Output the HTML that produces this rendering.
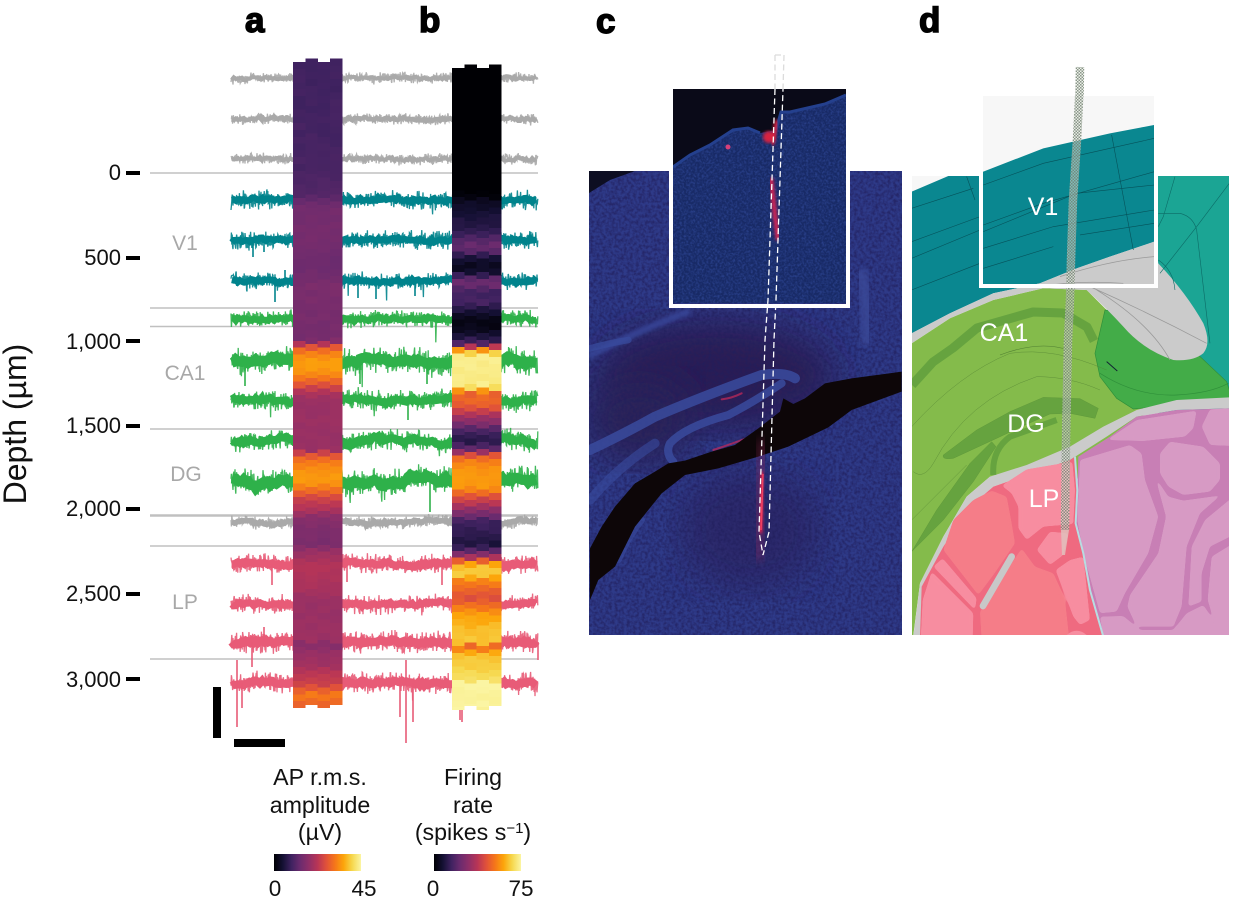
<!DOCTYPE html>
<html><head><meta charset="utf-8"><title>Depth recordings</title>
<style>
html,body{margin:0;padding:0;background:#fff}
svg{display:block}
text{font-family:"Liberation Sans",Arial,sans-serif}
.t{font-size:22px;fill:#111;text-anchor:end}
.r{font-size:21px;fill:#a8a8a8;text-anchor:middle}
.l{font-size:35px;font-weight:bold;fill:#000;stroke:#000;stroke-width:1.5}
.c{font-size:23.2px;fill:#111;text-anchor:middle}
.n{font-size:22.5px;fill:#111;text-anchor:middle}
.w{font-size:25px;fill:#fff;text-anchor:middle}
</style></head><body>
<svg id="s" xmlns="http://www.w3.org/2000/svg" width="1239" height="903" viewBox="0 0 1239 903">
<defs>
<linearGradient id="inf">
<stop offset="0" stop-color="#000004"/><stop offset=".1" stop-color="#141033"/><stop offset=".2" stop-color="#3f2260"/><stop offset=".3" stop-color="#6b2b6e"/><stop offset=".4" stop-color="#8f2f68"/><stop offset=".5" stop-color="#b83556"/><stop offset=".6" stop-color="#e0513a"/><stop offset=".7" stop-color="#f5761a"/><stop offset=".8" stop-color="#fca50a"/><stop offset=".9" stop-color="#f6d84e"/><stop offset="1" stop-color="#fbf5a3"/>
</linearGradient>
<filter id="sp" x="0" y="0" width="1" height="1" color-interpolation-filters="sRGB"><feTurbulence type="fractalNoise" baseFrequency=".33" numOctaves="2" seed="3"/><feColorMatrix values="0 0 0 0 .13 0 0 0 0 .12 0 0 0 0 .36 2.4 0 0 0 -.85"/></filter>
<filter id="sl" x="0" y="0" width="1" height="1" color-interpolation-filters="sRGB"><feTurbulence type="fractalNoise" baseFrequency=".45" numOctaves="2" seed="8"/><feColorMatrix values="0 0 0 0 .2 0 0 0 0 .3 0 0 0 0 .62 0 2.4 0 0 -.9"/></filter>
<filter id="b8"><feGaussianBlur stdDeviation="18"/></filter>
<filter id="b2"><feGaussianBlur stdDeviation="1.6"/></filter>
<filter id="b1"><feGaussianBlur stdDeviation="3"/></filter>
<filter id="b5"><feGaussianBlur stdDeviation="5"/></filter>
<filter id="goo" color-interpolation-filters="sRGB"><feGaussianBlur stdDeviation="4.500"/><feColorMatrix values="1 0 0 0 0 0 1 0 0 0 0 0 1 0 0 0 0 0 14 -6.500"/></filter>
<clipPath id="cc"><rect x="589" y="171" width="313" height="464"/></clipPath>
<clipPath id="ci"><rect x="673" y="89" width="173" height="214"/></clipPath>
<clipPath id="cd"><rect x="912" y="176" width="317" height="459"/><rect x="983" y="96" width="171" height="190"/></clipPath>
<pattern id="chk" width="3" height="3" patternUnits="userSpaceOnUse"><rect width="3" height="3" fill="#dfe5d8" opacity=".55"/><rect width="1.5" height="1.5" fill="#6f7f70" opacity=".8"/><rect x="1.5" y="1.5" width="1.5" height="1.5" fill="#6f7f70" opacity=".8"/></pattern>
</defs>

<g stroke="#c0c0c0" stroke-width="1.6">
<line x1="150" x2="538" y1="173" y2="173"/><line x1="150" x2="538" y1="308" y2="308"/><line x1="150" x2="538" y1="326.500" y2="326.500"/><line x1="150" x2="538" y1="429" y2="429"/><line x1="150" x2="538" y1="515.500" y2="515.500" stroke-width="2.400"/><line x1="150" x2="538" y1="546" y2="546"/><line x1="150" x2="538" y1="659" y2="659"/>
</g>
<g id="traces"></g>
<g id="cols" shape-rendering="crispEdges"></g>

<g fill="#000">
<rect x="126" y="171" width="14" height="4"/><rect x="126" y="256" width="14" height="4"/><rect x="126" y="339" width="14" height="4"/><rect x="126" y="424" width="14" height="4"/><rect x="126" y="507" width="14" height="4"/><rect x="126" y="592" width="14" height="4"/><rect x="126" y="677" width="14" height="4"/>
<rect x="213" y="687" width="8" height="51"/><rect x="234" y="739" width="51" height="8"/>
</g>
<text class="t" x="121" y="180">0</text><text class="t" x="121" y="265">500</text><text class="t" x="121" y="349">1,000</text><text class="t" x="121" y="433">1,500</text><text class="t" x="121" y="516">2,000</text><text class="t" x="121" y="601">2,500</text><text class="t" x="121" y="687">3,000</text>
<text class="r" x="185" y="250">V1</text><text class="r" x="185" y="380">CA1</text><text class="r" x="186" y="481">DG</text><text class="r" x="185" y="609">LP</text>
<text transform="translate(26,424) rotate(-90)" text-anchor="middle" font-size="32" fill="#111">Depth (µm)</text>
<text class="l" x="245" y="32">a</text><text class="l" x="419" y="32">b</text><text class="l" x="596" y="33">c</text><text class="l" x="919" y="32">d</text>

<text class="c" x="320" y="785">AP r.m.s.</text><text class="c" x="320" y="813">amplitude</text><text class="c" x="320" y="840">(µV)</text>
<text class="c" x="473" y="785">Firing</text><text class="c" x="473" y="813">rate</text><text class="c" x="473" y="840">(spikes s<tspan dy="-7" font-size="15">−1</tspan><tspan dy="7">)</tspan></text>
<rect x="274" y="854" width="87" height="17" fill="url(#inf)"/><rect x="434" y="854" width="87" height="17" fill="url(#inf)"/>
<text class="n" x="275" y="896">0</text><text class="n" x="364" y="896">45</text><text class="n" x="433" y="896">0</text><text class="n" x="521" y="896">75</text>

<!-- panel c -->
<g clip-path="url(#cc)">
<rect x="589" y="171" width="313" height="464" fill="#2e3a88"/>
<ellipse cx="715" cy="375" rx="120" ry="55" fill="#2a1f55" filter="url(#b8)"/>
<ellipse cx="640" cy="420" rx="55" ry="45" fill="#2b2258" filter="url(#b8)"/>
<ellipse cx="750" cy="530" rx="70" ry="60" fill="#2b2460" opacity=".7" filter="url(#b8)"/>
<rect x="589" y="171" width="313" height="464" filter="url(#sp)" opacity=".7"/>
<path d="M860 270Q868 300 868 345" stroke="#3a4898" stroke-width="14" fill="none" filter="url(#b1)" opacity=".8"/>
<path d="M589 356Q640 330 690 311" stroke="#38479a" stroke-width="7" fill="none" filter="url(#b2)" opacity=".8"/>
<g transform="translate(585,340) scale(.3333)" fill="none" stroke="#394b9e" stroke-linecap="round">
<path d="M15 330Q120 280 210 230Q350 170 530 105Q600 95 630 115" stroke-width="30" opacity=".85"/>
<path d="M590 130Q500 190 430 225Q300 260 255 310Q240 340 265 365" stroke-width="24" opacity=".85"/>
<path d="M15 480Q100 380 210 310" stroke-width="28" opacity=".6"/>
<path d="M15 25Q70 10 130 0" stroke-width="20" opacity=".7"/>
<path d="M100 660Q130 590 170 540" stroke-width="20" opacity=".6"/>
<path d="M410 178Q440 175 470 160M385 330Q430 315 485 295" stroke="#c72a5a" stroke-width="6" opacity=".7"/>
<path fill="#0d0608" stroke="none" d="M15 625L50 560L90 500L120 465L150 430L210 395L250 370L300 362L380 335L450 315L520 265L585 215L595 175L625 192L660 175L720 130L800 115L950 95V155L800 210L730 262L610 320L520 350L400 385L300 405L230 460L150 560L90 680L40 720L15 780Z"/>
</g>
<path d="M589 171H635L610 180L589 193Z" fill="#0d0e22"/>
<path d="M764 440L757 560" stroke="#a52a60" stroke-width="14" opacity=".3" filter="url(#b5)"/>
<path d="M763 472L760 533" stroke="#e6244f" stroke-width="4" fill="none" filter="url(#b2)"/>
<path d="M763 474L761 530" stroke="#f04060" stroke-width="1.600"/>
</g>
<path d="M671 171V306H848V171" fill="none" stroke="#fff" stroke-width="4"/>
<g clip-path="url(#ci)">
<rect x="673" y="89" width="173" height="214" fill="#182a66"/>
<rect x="673" y="89" width="173" height="214" filter="url(#sl)" opacity=".6"/>
<path d="M673 89H846V95L825 104L790 112L781 112L776 130L760 133L748 128L733 130L710 145L690 155L673 167Z" fill="#0a0a18"/>
<path d="M846 95L825 104L790 112L781 112L776 130M760 133L748 128L733 130L710 145L690 155L673 167" fill="none" stroke="#24408e" stroke-width="3"/>
<ellipse cx="769" cy="137" rx="6" ry="6" fill="#d8203f" filter="url(#b2)"/>
<path d="M777 120L772 145" stroke="#e0203f" stroke-width="4" filter="url(#b2)"/>
<circle cx="728" cy="147" r="2.500" fill="#d8407a"/>
<path d="M771 178L775 215L778 240" stroke="#e62050" stroke-width="4" fill="none" filter="url(#b2)"/>
</g>
<g fill="none" stroke-dasharray="6 3.500" stroke-width="1.300">
<path d="M775 55L775 89M784 55L783 89M775 55L784 55" stroke="#dcdcdc"/>
<path d="M775 89L768 300L765 340L759 532L763 555L769 532L774 340L776 300L783 89" stroke="#fff"/>
</g>

<!-- panel d -->
<g clip-path="url(#cd)">
<rect x="912" y="96" width="317" height="540" fill="#f7f7f7"/>
<path d="M1158 176H1229V640H1158Z" fill="#1ba594"/>
<g transform="translate(910,60) scale(.3333)">
<path d="M5 395L115 348L220 335L400 265L600 220L733 195V545L600 590L500 625L390 670L250 700L120 760L5 820Z" fill="#0a8790"/>
<path d="M5 850L120 775L250 720L400 685L530 690L590 750L640 800L700 860V1200H5Z" fill="#84bb4b"/>
</g>
<g transform="translate(910,340) scale(.3333)">
<path d="M5 100H700V420L240 410L170 470L100 590L30 730L10 885H5Z" fill="#84bb4b"/>
<path d="M585 -90L800 -60L860 40L950 125L958 150V190L790 195L670 207L620 175L570 110L555 40Z" fill="#43ac48" stroke="#2f8f3a" stroke-width="2"/>
<path d="M570 100Q680 170 800 165Q900 160 955 130" fill="none" stroke="#2f8f3a" stroke-width="2"/>
<path d="M590 65L622 93" stroke="#123" stroke-width="3"/>
</g>
<g transform="translate(910,60) scale(.3333)">
<path d="M5 820L120 760L250 700L390 670L500 625L600 590L733 545L745 610Q830 700 880 790Q905 850 880 880Q850 905 790 900Q700 870 640 800Q590 745 530 690L400 685L250 720L120 775L5 850Z" fill="#cbcbcb"/>
</g>
<g transform="translate(910,340) scale(.3333)">
<path fill="#cbcbcb" d="M958 172L800 180L680 210L580 260L480 320L350 375L240 410L170 470L100 590L30 730L10 890H30L40 740L100 620L180 500L250 440L480 360L590 290L680 230L800 210L958 205Z"/>
<path fill="#66a33f" stroke="#578f37" d="M100 345L200 270L300 215L400 172L510 176L565 205L555 235L480 220L420 222L330 262L260 295L130 355Q95 360 100 345Z"/>
<path fill="#66a33f" stroke="#578f37" d="M5 635L80 510L180 370L245 305L258 320L190 425L100 540Z"/>
<path d="M250 405Q245 330 300 290L440 240" fill="none" stroke="#66a33f" stroke-width="18"/>
<g fill="none" stroke="#507f32" stroke-width="1.500" opacity=".7"><path d="M5 260Q150 100 300 40Q430 20 590 90"/><path d="M10 395Q40 420 70 370Q170 180 380 110Q480 110 570 150"/><path d="M5 540L170 375"/></g>
<path fill="#ef6a80" d="M250 440L480 360L495 350L500 450L495 550L520 640L540 750L580 890H30L35 740L100 620L180 500Z"/>
<g filter="url(#goo)">
<path fill="#f78da0" d="M275 437L305 460L325 500L325 565L350 600L400 560L490 552L495 450L487 365L350 388Z"/>
<path fill="#f57d88" d="M245 452L290 470L305 550L315 610L250 705L205 765L100 630L130 540L190 480Z"/>
<path fill="#f57d88" d="M210 815L335 625L375 680L430 700L465 780L478 900H215Z"/>
<path fill="#f78da0" d="M65 695L190 820L188 900H32L38 780Z"/>
<path fill="#f78da0" d="M98 655L200 775L195 810L70 680Z"/>
<path fill="#f78da0" d="M380 630L420 575L475 580L460 645L420 675Z"/>
<path fill="#f78da0" d="M437 690L480 660L520 650L540 840L510 855L490 830L460 750Z"/>
</g>
<path d="M219 798L305 650" stroke="#c8c8c8" stroke-width="20" stroke-linecap="round"/>
<path d="M470 885Q500 860 530 885" fill="#f78da0"/>
<path fill="#c87fb5" d="M505 350L600 290L680 230L800 210L958 205V890H580L540 750L520 640L497 550L502 450Z"/>
<g fill="#d79ac4" filter="url(#goo)">
<path d="M590 300L680 240L860 212L850 265L825 290L700 303Z"/>
<path d="M875 260L900 208L970 205V318L900 315Z"/>
<path d="M510 360L660 315L695 340L705 420L745 530L715 640L645 760L620 815L570 820L520 640L502 540Z"/>
<path d="M750 340L780 305L880 320L930 370L930 420L900 455L820 465L775 440L750 400Z"/>
<path d="M718 345L735 410L775 470L820 482L920 468L950 450L870 520L830 620L815 800L790 860L680 860L652 800L660 765L745 640L768 530Z"/>
<path d="M835 800L845 620L885 540L970 470V585L900 620L875 700L875 785Z"/>
<path d="M893 780L905 650L970 610V900H930Z"/>
<path d="M570 830L640 828L690 870L790 870L830 820L880 795L930 870L970 900H582Z"/>
</g>
<path d="M495 350L502 450L497 550L520 640L540 750L580 890" fill="none" stroke="#b7dde2" stroke-width="6"/>
</g>
<path d="M912 385L933 362L953 348L977 328L1033 312L1063 313L1087 327L1094 341" fill="none" stroke="#66a33f" stroke-width="9" stroke-linejoin="round"/>
<path d="M1000 355Q1040 340 1068 350" fill="none" stroke="#507f32" stroke-width=".6"/>
<g transform="translate(910,60) scale(.3333)">
<g fill="none" stroke="#06525a" stroke-width="1.800">
<path d="M5 445L190 385"/><path d="M5 545L210 470"/><path d="M5 595L210 510"/><path d="M5 690L210 610"/>
<path d="M220 375L400 310L600 265L733 235"/><path d="M220 495L400 430L733 335"/><path d="M220 515L500 400L733 375"/><path d="M220 565L430 500L733 450"/><path d="M220 625L430 560"/><path d="M510 525L733 490"/>
<path d="M605 225L670 570M170 350L195 420"/>
</g>
<g fill="none" stroke="#0c6b66" stroke-width="1.800"><path d="M795 350L760 470L745 500M745 460H810Q850 470 860 510L900 850M958 370L860 500L750 640"/><path d="M745 600Q790 630 795 690"/></g>
<g fill="none" stroke="#999" stroke-width="2.200"><path d="M450 650Q600 600 733 590M540 680Q720 760 890 850M560 690Q720 790 780 900M390 680Q500 660 640 670"/></g>
</g>
<path d="M1080 67L1079 100L1077 140L1073 200L1071 260L1070 300L1068 340L1066 440L1065 530" stroke="url(#chk)" stroke-width="8.500" fill="none"/>
<path d="M1061 530L1069 530L1065 555L1062 555Z" fill="#e0c0bc" opacity=".85"/>
</g>
<path d="M1080 67L1079.500 96" stroke="url(#chk)" stroke-width="8.500" fill="none"/>
<path d="M981 176V286H1156V176" fill="none" stroke="#fff" stroke-width="4"/>
<text class="w" x="1043" y="215">V1</text><text class="w" x="1004" y="341">CA1</text><text class="w" x="1026" y="432">DG</text><text class="w" x="1044" y="507">LP</text>
</svg>
<script>
(function(){
var seed=12345;function R(){seed=(seed*1664525+1013904223)>>>0;return seed/4294967296;}
var NS="http://www.w3.org/2000/svg";
function el(n,a,p){var e=document.createElementNS(NS,n);for(var k in a)e.setAttribute(k,a[k]);p.appendChild(e);return e;}
var T=document.getElementById("traces");
var G="#a9a9a9",Te="#00838c",Gr="#2eb14a",P="#e85b77";
var tr=[[78,G,7,.5,0,4],[119,G,7,.5,0,4.500],[159,G,7,.5,0,4],[200,Te,12,.7,.01,6.500],[240,Te,12,.7,.012,6.500],[281,Te,11,.7,.02,6.500],[319,Gr,11,.5,.01,6.500],[361,Gr,17,1.6,.03,10],[400,Gr,13,1.2,.02,7.500],[441,Gr,13,1.8,.01,8],[481,Gr,17,3,.02,10],[522,G,8,1.2,0,5.500],[564,P,12,1,.015,7.500],[604,P,12,.7,.015,7],[642,P,14,.7,.015,8.500],[683,P,13,1,.02,8]];
tr.forEach(function(t){
  var pts=[],mid=[],ph=R()*9,ph2=R()*9,ph3=R()*9;
  for(var x=231;x<=538;x+=.4){
    var w=(Math.sin(x/17+ph)+Math.sin(x/7.3+ph2)*.7+Math.sin(x/2.9+ph3)*.5)*t[3];
    var n=(R()+R()-1)*t[2]*.9;
    var y=t[0]+w+n;
    if(R()<t[4]*.3) y+=4+R()*t[2]*1.1;
    pts.push(x.toFixed(1)+","+y.toFixed(1));
    if(Math.round(x/.4)%5==0)mid.push(x.toFixed(1)+","+(t[0]+w+(R()-.5)*3).toFixed(1));
  }
  el("polyline",{points:pts.join(" "),fill:"none",stroke:t[1],"stroke-width":1.3,opacity:.9},T);
  el("polyline",{points:mid.join(" "),fill:"none",stroke:t[1],"stroke-width":t[5]},T);
});
var sp=[[275,281,302,Te],[358,281,298,Te],[376,281,299,Te],[415,281,296,Te],[253,240,257,Te],[264,240,252,Te],[285,270,281,Te],[245,361,386,Gr],[360,361,384,Gr],[427,361,384,Gr],[408,400,420,Gr],[430,481,512,Gr],[237,660,727,P],[242,683,708,P],[400,683,717,P],[406,660,743,P],[413,683,722,P],[460,700,720,P],[462,700,722,P],[272,564,585,P],[347,564,582,P],[442,564,585,P],[264,627,642,P],[252,642,667,P],[538,642,660,P]];
sp.forEach(function(s){el("line",{x1:s[0],x2:s[0],y1:s[1],y2:s[2],stroke:s[3],"stroke-width":1.6},T);});
var cm=[[0,0,4],[20,16,51],[63,34,96],[107,43,110],[143,47,104],[184,53,86],[224,81,58],[245,118,26],[252,165,10],[246,216,78],[251,245,163]];
function col(v){v=Math.max(0,Math.min(1,v))*10;var i=Math.min(9,Math.floor(v)),f=v-i,a=cm[i],b=cm[i+1];return "rgb("+[0,1,2].map(function(k){return Math.round(a[k]+(b[k]-a[k])*f);}).join(",")+")";}
function prof(p,y){if(y<=p[0][0])return p[0][1];for(var i=1;i<p.length;i++){if(y<=p[i][0]){var a=p[i-1],b=p[i];return a[1]+(b[1]-a[1])*(y-a[0])/(b[0]-a[0]);}}return p[p.length-1][1];}
var pa=[[62,.2],[170,.22],[195,.25],[205,.32],[240,.33],[262,.3],[285,.34],[340,.33],[343,.43],[346,.58],[352,.7],[360,.78],[370,.78],[378,.7],[385,.6],[393,.47],[400,.43],[450,.42],[454,.58],[460,.68],[470,.76],[482,.78],[490,.68],[498,.56],[510,.47],[518,.38],[530,.35],[545,.34],[552,.42],[565,.49],[590,.46],[600,.42],[640,.43],[645,.36],[652,.42],[665,.44],[672,.5],[685,.55],[695,.72],[708,.62]];
var pb=[[66,0],[195,0],[200,.05],[212,.1],[225,.14],[232,.17],[240,.25],[246,.3],[252,.24],[258,.12],[265,.05],[272,.08],[279,.28],[284,.32],[292,.2],[302,.22],[312,.1],[320,.02],[330,.05],[338,.13],[345,.26],[348,.68],[352,.82],[355,.97],[386,.97],[390,.82],[393,.62],[400,.68],[408,.6],[416,.45],[424,.35],[432,.2],[442,.15],[450,.3],[456,.62],[462,.72],[470,.77],[488,.78],[495,.62],[505,.48],[514,.33],[522,.2],[545,.12],[552,.28],[558,.48],[562,.68],[566,.86],[576,.88],[580,.74],[590,.66],[598,.58],[606,.68],[614,.78],[630,.85],[642,.88],[646,.66],[650,.74],[655,.86],[672,.9],[680,.94],[684,1],[712,1]];
var C=document.getElementById("cols");
function draw(x0,p,ys,dn,dn2){
  var w=12.25,h=6.8;
  for(var c=0;c<4;c++){
    var even=c%2===0,y0=even?ys:ys-3.4,end=even?dn:dn2;
    for(var y=y0;y<end-1;y+=h){
      var v=prof(p,y+h/2)+(R()-.5)*(p===pb?.03:.02);
      if(p===pb&&y<190)v=0;
      var hh=Math.min(h+.4,end-y);
      el("rect",{x:(x0+c*w).toFixed(2),y:y.toFixed(2),width:(w+.3).toFixed(2),height:hh.toFixed(2),fill:col(v)},C);
    }
  }
}
draw(293,pa,62,708,705);draw(452,pb,68,710,706);
})();
</script>
</body></html>
